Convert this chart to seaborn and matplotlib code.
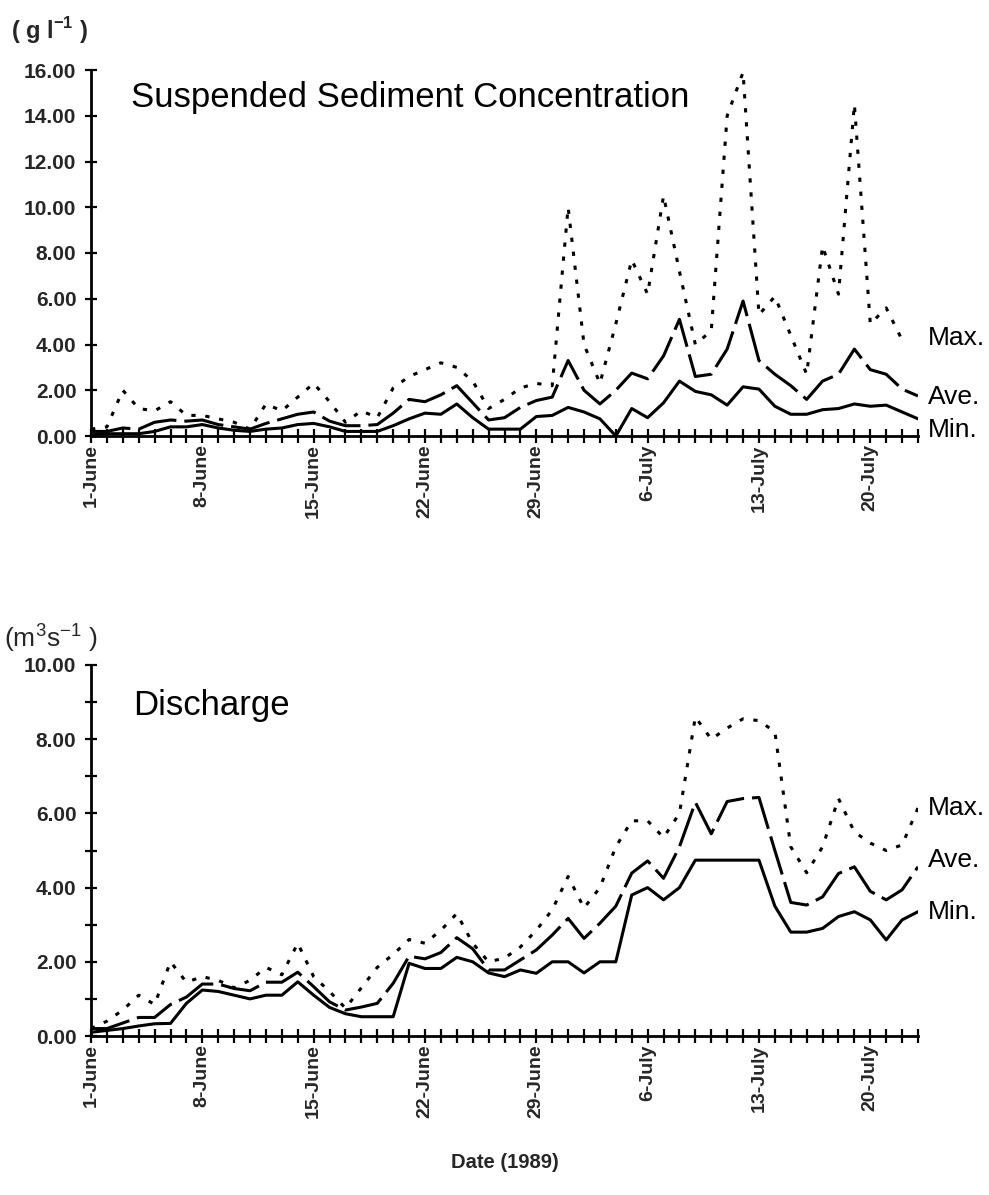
import numpy as np
import pandas as pd
import matplotlib
matplotlib.use("Agg")
import matplotlib.pyplot as plt
import seaborn as sns
from matplotlib.ticker import MultipleLocator, FixedLocator, FuncFormatter

# Daily values, 1 June (day 0) to 23 July (day 52) 1989
days = list(range(53))
date_ticks = [0, 7, 14, 21, 28, 35, 42, 49]
date_labels = ["1-June", "8-June", "15-June", "22-June", "29-June",
               "6-July", "13-July", "20-July"]

# Suspended sediment concentration (g l-1)
ssc_max = [0.3, 0.4, 2.0, 1.2, 1.1, 1.5, 0.9, 0.9, 0.75, 0.6,
           0.3, 1.4, 1.1, 1.7, 2.3, 1.5, 0.6, 1.1, 0.8, 2.1,
           2.6, 2.9, 3.2, 3.0, 2.4, 1.2, 1.6, 2.1, 2.3, 2.2,
           10.0, 4.0, 2.3, 4.9, 7.7, 6.2, 10.5, 7.2, 4.0, 4.6,
           14.0, 15.9, 5.3, 6.1, 4.4, 2.7, 8.3, 6.2, 14.5, 4.9,
           5.6, 4.2, np.nan]
ssc_ave = [0.2, 0.2, 0.35, 0.3, 0.6, 0.7, 0.65, 0.7, 0.5, 0.4,
           0.3, 0.55, 0.75, 0.95, 1.05, 0.65, 0.45, 0.45, 0.5, 1.0,
           1.6, 1.5, 1.8, 2.2, 1.45, 0.7, 0.8, 1.25, 1.55, 1.7,
           3.3, 2.0, 1.4, 2.0, 2.75, 2.5, 3.5, 5.1, 2.6, 2.7,
           3.8, 5.9, 3.3, 2.7, 2.2, 1.6, 2.4, 2.7, 3.8, 2.9,
           2.7, 2.05, 1.75]
ssc_min = [0.05, 0.1, 0.1, 0.1, 0.2, 0.4, 0.4, 0.5, 0.35, 0.25,
           0.2, 0.3, 0.35, 0.5, 0.55, 0.4, 0.2, 0.2, 0.2, 0.45,
           0.75, 1.0, 0.95, 1.4, 0.8, 0.3, 0.3, 0.3, 0.85, 0.9,
           1.25, 1.05, 0.75, 0.0, 1.2, 0.8, 1.45, 2.4, 1.95, 1.8,
           1.35, 2.15, 2.05, 1.3, 0.95, 0.95, 1.15, 1.2, 1.4, 1.3,
           1.35, 1.05, 0.75]

# Discharge (m3 s-1)
q_max = [0.2, 0.4, 0.7, 1.1, 0.85, 2.0, 1.45, 1.6, 1.5, 1.3,
         1.5, 1.85, 1.65, 2.5, 1.6, 1.2, 0.75, 1.3, 1.85, 2.2,
         2.6, 2.5, 2.85, 3.3, 2.5, 2.0, 2.1, 2.4, 2.85, 3.4,
         4.3, 3.45, 4.0, 5.1, 5.8, 5.8, 5.35, 6.0, 8.6, 8.0,
         8.3, 8.55, 8.5, 8.2, 5.1, 4.4, 5.1, 6.4, 5.5, 5.2,
         5.0, 5.15, 6.15]
q_ave = [0.2, 0.2, 0.35, 0.5, 0.5, 0.85, 1.05, 1.4, 1.4, 1.28,
         1.22, 1.45, 1.45, 1.72, 1.33, 0.92, 0.7, 0.78, 0.88, 1.42,
         2.15, 2.08, 2.25, 2.65, 2.35, 1.78, 1.78, 2.05, 2.32, 2.72,
         3.17, 2.63, 3.04, 3.5, 4.39, 4.72, 4.25, 5.1, 6.3, 5.45,
         6.32, 6.4, 6.43, 5.0, 3.6, 3.53, 3.75, 4.38, 4.56, 3.9,
         3.67, 3.94, 4.56]
q_min = [0.1, 0.15, 0.2, 0.27, 0.33, 0.34, 0.88, 1.24, 1.2, 1.1,
         1.0, 1.1, 1.1, 1.46, 1.1, 0.77, 0.6, 0.52, 0.52, 0.52,
         1.96, 1.82, 1.82, 2.12, 2.0, 1.7, 1.6, 1.78, 1.69, 2.0,
         2.0, 1.7, 2.0, 2.0, 3.8, 4.0, 3.67, 4.0, 4.74, 4.74,
         4.74, 4.74, 4.74, 3.5, 2.8, 2.8, 2.9, 3.22, 3.35, 3.13,
         2.59, 3.13, 3.35]

series_names = ["Max.", "Ave.", "Min."]


def long_frame(mx, av, mn):
    parts = []
    for name, vals in zip(series_names, (mx, av, mn)):
        parts.append(pd.DataFrame({"day": days, "value": vals, "series": name}))
    return pd.concat(parts, ignore_index=True)


ssc = long_frame(ssc_max, ssc_ave, ssc_min)
dis = long_frame(q_max, q_ave, q_min)

sns.set_theme(style="ticks")
plt.rcParams["font.family"] = ["Liberation Sans", "DejaVu Sans"]
plt.rcParams["mathtext.fontset"] = "custom"
plt.rcParams["mathtext.rm"] = "Liberation Sans"
plt.rcParams["mathtext.bf"] = "Liberation Sans:bold"

W, H = 989, 1195
fig = plt.figure(figsize=(W / 100, H / 100), dpi=100)
fig.patch.set_facecolor("white")

x0, x1 = 91, 918
ax_top = fig.add_axes([x0 / W, 1 - 436 / H, (x1 - x0) / W, (436 - 70) / H])
ax_bot = fig.add_axes([x0 / W, 1 - 1036 / H, (x1 - x0) / W, (1036 - 665) / H])

line_dashes = {"Max.": (1.4, 3.2), "Ave.": (13, 2.6), "Min.": ""}


def style_axis(ax, data, ymax, ymajor, yminor, title, title_xy, label_vals):
    sns.lineplot(data=data, x="day", y="value", style="series",
                 dashes=line_dashes, color="black", linewidth=2.2,
                 legend=False, ax=ax)
    ax.set_facecolor("white")
    ax.set_xlim(0, 52)
    ax.set_ylim(0, ymax)
    for side in ("top", "right"):
        ax.spines[side].set_visible(False)
    for side in ("left", "bottom"):
        ax.spines[side].set_linewidth(2.0)
        ax.spines[side].set_color("black")
    ax.xaxis.set_major_locator(FixedLocator(date_ticks))
    ax.xaxis.set_minor_locator(MultipleLocator(1))
    ax.set_xticklabels(date_labels, rotation=90, fontsize=14,
                       fontweight="bold")
    ax.yaxis.set_major_locator(MultipleLocator(ymajor))
    ax.yaxis.set_minor_locator(MultipleLocator(yminor))
    ax.yaxis.set_major_formatter(FuncFormatter(lambda v, p: f"{v:.2f}"))
    for lab in ax.get_yticklabels():
        lab.set_fontsize(15)
        lab.set_fontweight("bold")
    ax.tick_params(axis="x", which="both", direction="inout", length=10,
                   width=1.6, color="black", pad=1)
    ax.tick_params(axis="y", which="both", direction="inout", length=9,
                   width=1.6, color="black", pad=6)
    ax.set_xlabel("")
    ax.set_ylabel("")
    ax.text(title_xy[0], title_xy[1], title, transform=ax.transAxes,
            fontsize=25, ha="left", va="center", color="black")
    for name, yv in zip(series_names, label_vals):
        ax.text(52.6, yv, name, fontsize=19, ha="left", va="center",
                color="black", clip_on=False)


style_axis(ax_top, ssc, 16, 2, 2, "Suspended Sediment Concentration",
           (0.048, 0.926), (4.3, 1.7, 0.25))
style_axis(ax_bot, dis, 10, 2, 1, "Discharge",
           (0.051, 0.892), (6.15, 4.75, 3.35))

fig.text(11 / W, 1 - 31 / H, r"( g l$^{\mathbf{-1}}$ )", fontsize=17,
         fontweight="bold", ha="left", va="center")
fig.text(4 / W, 1 - 638 / H, r"(m$^{3}$s$^{-1}$ )", fontsize=19,
         ha="left", va="center")
fig.text(505 / W, 1 - 1163 / H, "Date (1989)", fontsize=14.5,
         fontweight="bold", ha="center", va="center")

fig.savefig("out.png", dpi=100, facecolor="white")
